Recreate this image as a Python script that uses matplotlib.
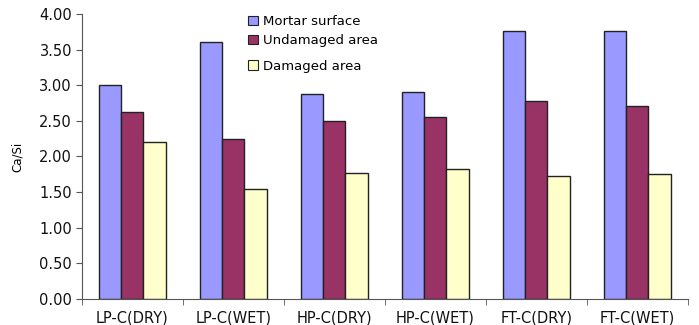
import matplotlib
matplotlib.use('Agg')
import matplotlib.pyplot as plt
from matplotlib.patches import Patch
import numpy as np

plt.rcParams['font.family'] = ['DejaVu Sans']

categories = ['LP-C(DRY)', 'LP-C(WET)', 'HP-C(DRY)', 'HP-C(WET)', 'FT-C(DRY)', 'FT-C(WET)']
mortar = [3.00, 3.61, 2.87, 2.91, 3.76, 3.76]
undamaged = [2.63, 2.25, 2.50, 2.55, 2.78, 2.71]
damaged = [2.21, 1.54, 1.77, 1.82, 1.72, 1.76]
series_names = ['Mortar surface', 'Undamaged area', 'Damaged area']
colors = ['#9999FF', '#993366', '#FFFFCC']

fig = plt.figure(figsize=(6.99, 3.25), dpi=100)
ax = fig.add_axes([0.117, 0.08, 0.867, 0.877])

x = np.arange(len(categories))
w = 0.22
for i, (vals, name, c) in enumerate(zip([mortar, undamaged, damaged], series_names, colors)):
    ax.bar(x + (i - 1) * w, vals, w, color=c, edgecolor='#222222', linewidth=1.0, label=name)

ax.set_xlim(-0.5, len(categories) - 0.5)
ax.set_ylim(0, 4)
yt = np.arange(0, 4.01, 0.5)
ax.set_yticks(yt)
ax.set_yticklabels([f'{v:.2f}' for v in yt], fontsize=10.5, color='#111111')
ax.set_xticks(x)
ax.set_xticklabels(categories, fontsize=10.5, color='#111111')
ax.tick_params(axis='x', length=0, pad=8)
ax.set_xticks(np.arange(-0.5, len(categories), 1), minor=True)
ax.tick_params(axis='x', which='minor', length=4, color='#555555')
ax.tick_params(axis='y', length=4, color='#555555', pad=3)

for s in ['top', 'right']:
    ax.spines[s].set_visible(False)
for s in ['left', 'bottom']:
    ax.spines[s].set_color('#555555')

ax.set_ylabel('Ca/Si', fontsize=8.5, labelpad=11)

# legend: first two entries close together, third a bit lower
handles = [Patch(facecolor=c, edgecolor='#222222', linewidth=0.8) for c in colors]
leg_kw = dict(frameon=False, fontsize=9.5, handlelength=0.7, handleheight=0.7,
              handletextpad=0.4, labelspacing=0.45, borderpad=0, borderaxespad=0)
leg1 = ax.legend(handles[:2], series_names[:2], loc='upper left',
                 bbox_to_anchor=(0.275, 0.995), **leg_kw)
ax.add_artist(leg1)
ax.legend(handles[2:], series_names[2:], loc='upper left',
          bbox_to_anchor=(0.275, 0.84), **leg_kw)

fig.savefig('out.png', dpi=100)
